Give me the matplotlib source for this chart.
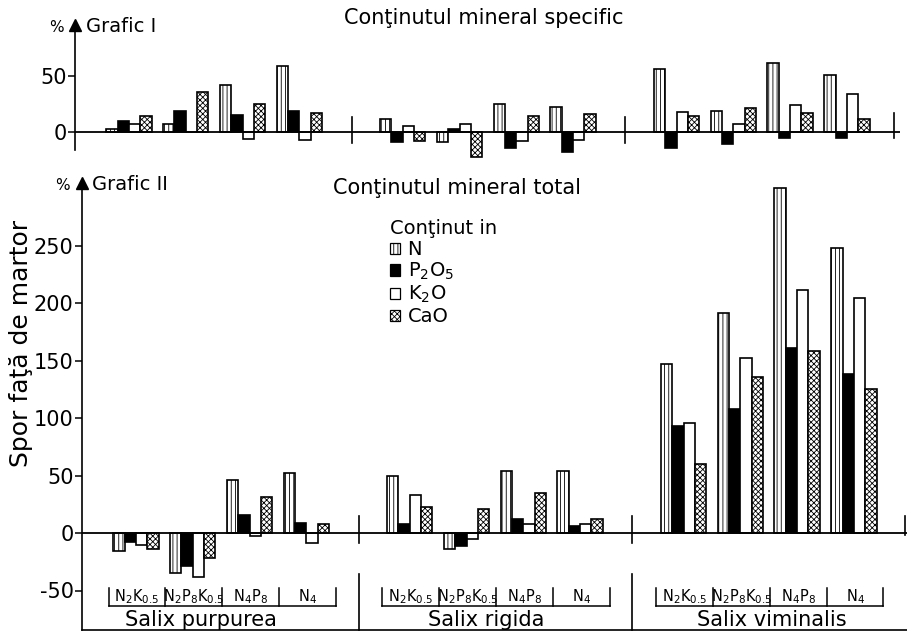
import numpy as np
import matplotlib
matplotlib.use("Agg")
import matplotlib.pyplot as plt
from matplotlib.patches import Patch

plt.rcParams['font.family'] = ['DejaVu Sans']
plt.rcParams['hatch.linewidth'] = 0.6
plt.rcParams['mathtext.default'] = 'regular'
plt.rcParams['axes.unicode_minus'] = False

# ---- data ----
species = ["Salix purpurea", "Salix rigida", "Salix viminalis"]
treatments = [r"N$_2$K$_{0.5}$", r"N$_2$P$_8$K$_{0.5}$", r"N$_4$P$_8$", r"N$_4$"]
nutrients = ["N", r"P$_2$O$_5$", r"K$_2$O", "CaO"]

# Grafic I - continutul mineral specific (% fata de martor)
spec_N = [3, 7, 42, 59, 12, -9, 25, 22, 56, 19, 62, 51]
spec_P = [10, 19, 15, 19, -9, 3, -14, -18, -14, -11, -5, -5]
spec_K = [7, 0, -6, -7, 5, 7, -8, -7, 18, 7, 24, 34]
spec_Ca = [14, 36, 25, 17, -8, -22, 14, 16, 14, 21, 17, 12]

# Grafic II - continutul mineral total (% fata de martor)
tot_N = [-16, -35, 46, 52, 50, -14, 54, 54, 147, 191, 300, 248]
tot_P = [-8, -29, 16, 9, 8, -11, 12, 6, 93, 108, 161, 138]
tot_K = [-10, -38, -3, -9, 33, -5, 8, 8, 96, 152, 211, 204]
tot_Ca = [-14, -22, 31, 8, 23, 21, 35, 12, 60, 136, 158, 125]

top_ticks = [0, 50]
bot_ticks = [-50, 0, 50, 100, 150, 200, 250]

# ---- layout ----
W, H = 907, 633
fig = plt.figure(figsize=(W / 100, H / 100), dpi=100)


def fx(px):
    return px / W


def fy(py):
    return 1 - py / H


SEC = 4.82
G0 = 0.55
BW = 0.2
XMAX = 825 / 56.8

group_x = np.array([s * SEC + G0 + g for s in range(3) for g in range(4)])

styles = [dict(facecolor='white', hatch='||||'),
          dict(facecolor='black'),
          dict(facecolor='white'),
          dict(facecolor='white', hatch='xxxxxx')]

ax_top = fig.add_axes([fx(75), fy(150), 825 / W, 125 / H])
ax_top.set_xlim(0, XMAX)
ax_top.set_ylim(-(150 - 132) / 1.12, (132 - 25) / 1.12)

ax_bot = fig.add_axes([fx(82), fy(630), 825 / W, (630 - 183) / H])
ax_bot.set_xlim(0, XMAX)
ax_bot.set_ylim(-(630 - 533) / 1.15, (533 - 183) / 1.15)

for ax, series, ticks in [(ax_top, [spec_N, spec_P, spec_K, spec_Ca], top_ticks),
                          (ax_bot, [tot_N, tot_P, tot_K, tot_Ca], bot_ticks)]:
    for i, (vals, st) in enumerate(zip(series, styles)):
        ax.bar(group_x + i * BW, vals, width=BW, align='edge',
               edgecolor='black', linewidth=1.2, zorder=3, clip_on=False, **st)
    ax.axhline(0, color='black', lw=1.3, zorder=4)
    ax.spines['top'].set_visible(False)
    ax.spines['right'].set_visible(False)
    ax.spines['left'].set_linewidth(1.2)
    ax.set_xticks([])
    ax.set_yticks(ticks)
    ax.tick_params(axis='y', direction='out', length=5, width=1.1,
                   labelsize=15, pad=1)
    ax.plot(0, 1, marker='^', markersize=8, color='black',
            transform=ax.transAxes, clip_on=False)
    ax.patch.set_visible(False)

ax_top.spines['bottom'].set_visible(False)
ax_bot.spines['bottom'].set_linewidth(1.2)

ymin_bot = ax_bot.get_ylim()[0]
# separators
for s in (1, 2):
    xs = s * SEC + 0.05
    ax_bot.plot([xs, xs], [-9, 15], color='black', lw=1.2, clip_on=False)
    ax_bot.plot([xs, xs], [-36, ymin_bot], color='black', lw=1.2, clip_on=False)
    ax_top.plot([xs, xs], [-10, 13], color='black', lw=1.2, clip_on=False)
ax_bot.plot([XMAX - 0.03] * 2, [-2, 15], color='black', lw=1.2, clip_on=False)
ax_top.plot([XMAX - 0.1] * 2, [-5, 17], color='black', lw=1.2, clip_on=False)

# brackets with treatment labels
name_off = [-0.35, -0.15, 0.05]
for s in range(3):
    b = s * SEC + G0 + np.arange(5) - 0.08
    ax_bot.plot([b[0], b[-1]], [-63.5, -63.5], color='black', lw=1.1, clip_on=False)
    for xb in b:
        ax_bot.plot([xb, xb], [-63.5, -48], color='black', lw=1.1, clip_on=False)
    for g, lab in enumerate(treatments):
        ax_bot.text(s * SEC + G0 + g + 0.42, -55.5, lab, ha='center', va='center',
                    fontsize=10.5)
    ax_bot.text(s * SEC + G0 + 1.9 + name_off[s], -76, species[s], ha='center',
                va='center', fontsize=15)

# legend
handles = [Patch(edgecolor='black', linewidth=0.9, **st) for st in styles]
leg = ax_bot.legend(handles, nutrients, title="Conţinut in", loc='upper left',
                    bbox_to_anchor=(fx(390), fy(219)), bbox_transform=fig.transFigure,
                    frameon=False, fontsize=14, title_fontsize=14,
                    handlelength=0.5, handleheight=0.5, handletextpad=0.4,
                    labelspacing=0.1, alignment='left', borderpad=0,
                    borderaxespad=0)

# texts
fig.text(fx(56), fy(28), "%", fontsize=11, ha='center', va='center')
fig.text(fx(86), fy(27), "Grafic I", fontsize=14, ha='left', va='center')
fig.text(fx(484), fy(18), "Conţinutul mineral specific", fontsize=15,
         ha='center', va='center')
fig.text(fx(62), fy(185), "%", fontsize=11, ha='center', va='center')
fig.text(fx(92), fy(184), "Grafic II", fontsize=14, ha='left', va='center')
fig.text(fx(457), fy(188), "Conţinutul mineral total", fontsize=15,
         ha='center', va='center')
fig.text(fx(21), fy(343), "Spor faţă de martor", fontsize=18, rotation=90,
         ha='center', va='center')

fig.savefig("out.png", dpi=100)
